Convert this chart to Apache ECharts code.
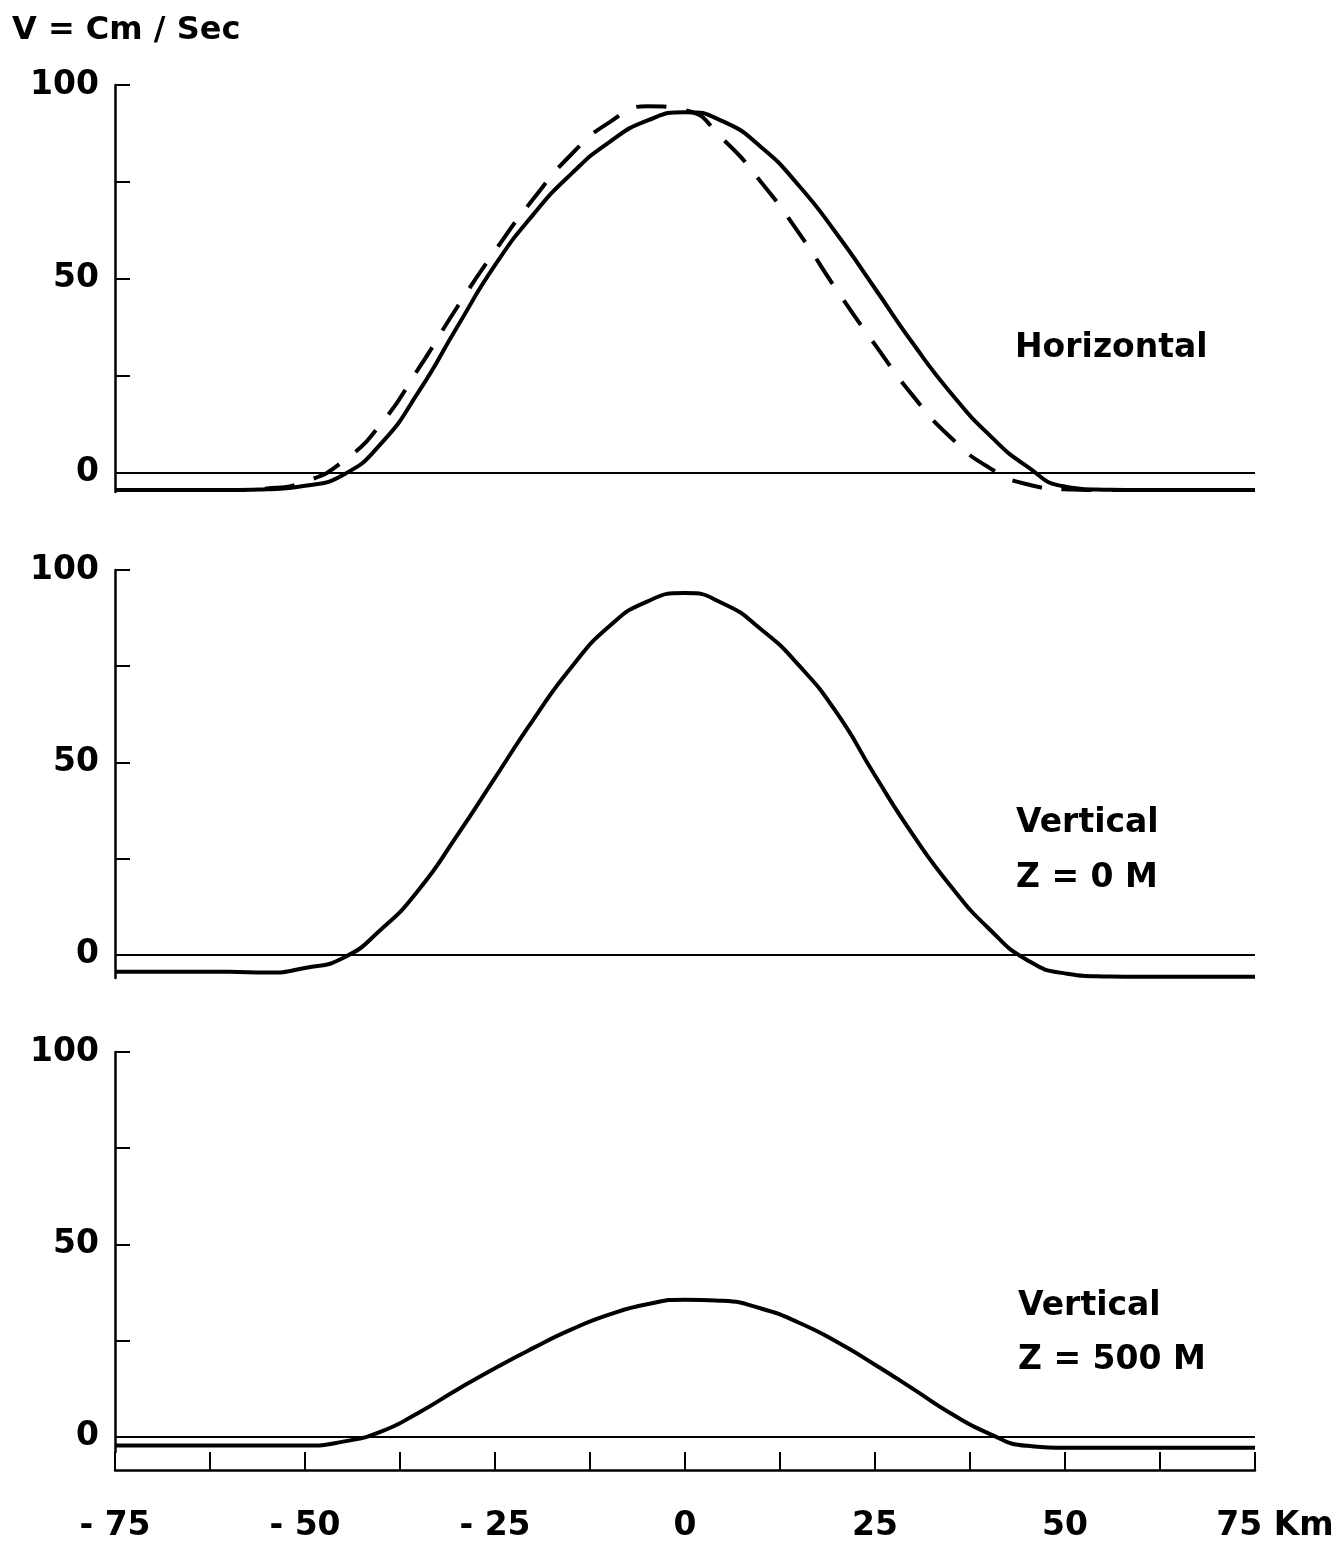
<!DOCTYPE html>
<html>
<head>
<meta charset="utf-8">
<script src="https://cdn.jsdelivr.net/npm/echarts@6/dist/echarts.min.js"></script>
<style>
  html, body { margin: 0; padding: 0; background: #fff; }
  #chart { width: 1337px; height: 1544px; }
</style>
</head>
<body>
<div id="chart"></div>
<script>
// distance along section, km
var kmX = [-75, -70, -65, -60, -55, -50, -45, -40, -35, -30, -25, -20, -15, -10, -5, 0,
           5, 10, 15, 20, 25, 30, 35, 40, 45, 50, 55, 60, 65, 70, 75];
// V (cm/sec)
var horizSolid  = [-4.5, -4.5, -4.5, -4.5, -4.3, -3.4, -0.6, 7.5, 21, 37.5, 53.5, 66.5, 77, 85.2, 90.8, 93,
                   90.6, 84, 74, 61.5, 47.5, 33.3, 20.5, 9.8, 1.6, -3.6, -4.4, -4.5, -4.5, -4.5, -4.5];
var horizDashed = [-4.5, -4.5, -4.5, -4.5, -4.1, -2.3, 2.9, 12.6, 27, 42.6, 57.2, 70.5, 82, 90.3, 94.5, 93.5,
                   86, 75, 61.8, 47, 33, 19.8, 9, 1.3, -3, -4.3, -4.5, -4.5, -4.5, -4.5, -4.5];
var vertZ0      = [-4.4, -4.4, -4.4, -4.4, -4.6, -3.4, -0.8, 6.6, 17, 31, 46, 61, 74.6, 85.3, 91.8, 94,
                   91.3, 84.6, 75.2, 62.8, 46.6, 31.2, 17.8, 6.8, -1.3, -4.8, -5.6, -5.7, -5.7, -5.7, -5.7];
var vertZ500    = [-2.3, -2.3, -2.3, -2.3, -2.3, -2.3, -1.3, 1.3, 6.3, 12.2, 17.8, 23, 27.8, 31.7, 34.4, 35.6,
                   35.3, 33.3, 29.6, 24.6, 18.7, 12.4, 6, 0.8, -2.4, -2.9, -2.9, -2.9, -2.9, -2.9, -2.9];
var yTicks = [25, 50, 75, 100];
var yLabels = [0, 50, 100];

var FONT = 'DejaVu Sans';
var pairs = function (ys) {
    return kmX.map(function (x, i) { return [x, ys[i]]; });
};
var zeroLine = {
    silent: true, symbol: ['none', 'none'], animation: false,
    label: { show: false },
    lineStyle: { color: '#000', width: 2, type: 'solid' },
    data: [{ yAxis: 0 }]
};
var yAxisOf = function (idx, min) {
    return {
        gridIndex: idx, type: 'value', min: min, max: 100,
        axisLine: { show: true, onZero: false, lineStyle: { color: '#000', width: 2.5 } },
        axisTick: { show: true, inside: true, length: 15, customValues: yTicks,
                    lineStyle: { color: '#000', width: 2 } },
        axisLabel: { customValues: yLabels, color: '#000', fontFamily: FONT, fontWeight: 'bold',
                     fontSize: 33, margin: 16 },
        splitLine: { show: false }
    };
};
var hiddenX = function (idx) {
    return { gridIndex: idx, type: 'value', min: -75, max: 75, show: false };
};
var curve = function (name, data, xi, dash) {
    return {
        name: name, type: 'line', xAxisIndex: xi, yAxisIndex: xi,
        data: pairs(data), showSymbol: false, smooth: 0.55, animation: false,
        lineStyle: { color: '#000', width: 4, type: dash ? [30, 20] : 'solid' }
    };
};

var option = {
    backgroundColor: '#fff',
    animation: false,
    grid: [
        { left: 115, width: 1140, top: 85, height: 407 },
        { left: 115, width: 1140, top: 570, height: 408 },
        { left: 115, width: 1140, top: 1052, height: 400 }
    ],
    xAxis: [
        hiddenX(0),
        hiddenX(1),
        {
            gridIndex: 2, type: 'value', min: -75, max: 75, interval: 12.5,
            position: 'bottom', offset: 18,
            axisLine: { onZero: false, lineStyle: { color: '#000', width: 2.5 } },
            axisTick: { inside: true, length: 18, lineStyle: { color: '#000', width: 2 } },
            axisLabel: {
                color: '#000', fontFamily: FONT, fontWeight: 'bold', fontSize: 33, margin: 40,
                formatter: function (v) {
                    if (v % 25 !== 0) return '';
                    if (v === 75) return '{km|75 Km}';
                    return v < 0 ? '- ' + Math.abs(v) : String(v);
                },
                rich: { km: { fontFamily: FONT, fontWeight: 'bold', fontSize: 33, color: '#000',
                              padding: [0, 0, 0, 40] } }
            },
            splitLine: { show: false }
        }
    ],
    yAxis: [yAxisOf(0, -5), yAxisOf(1, -6), yAxisOf(2, -4)],
    graphic: [
        { type: 'text', left: 12, top: 15,
          style: { text: 'V = Cm / Sec', font: 'bold 32px ' + FONT, fill: '#000' } },
        { type: 'text', left: 1015, top: 332,
          style: { text: 'Horizontal', font: 'bold 33px ' + FONT, fill: '#000' } },
        { type: 'text', left: 1016, top: 807,
          style: { text: 'Vertical', font: 'bold 33px ' + FONT, fill: '#000' } },
        { type: 'text', left: 1016, top: 862,
          style: { text: 'Z = 0 M', font: 'bold 33px ' + FONT, fill: '#000' } },
        { type: 'text', left: 1018, top: 1290,
          style: { text: 'Vertical', font: 'bold 33px ' + FONT, fill: '#000' } },
        { type: 'text', left: 1018, top: 1344,
          style: { text: 'Z = 500 M', font: 'bold 33px ' + FONT, fill: '#000' } }
    ],
    series: [
        Object.assign(curve('Horizontal', horizSolid, 0, false), { markLine: zeroLine }),
        curve('Horizontal (dashed)', horizDashed, 0, true),
        Object.assign(curve('Vertical Z = 0 M', vertZ0, 1, false), { markLine: zeroLine }),
        Object.assign(curve('Vertical Z = 500 M', vertZ500, 2, false), { markLine: zeroLine })
    ]
};

var myChart = echarts.init(document.getElementById('chart'));
myChart.setOption(option);
window.onresize = myChart.resize;
</script>
</body>
</html>
